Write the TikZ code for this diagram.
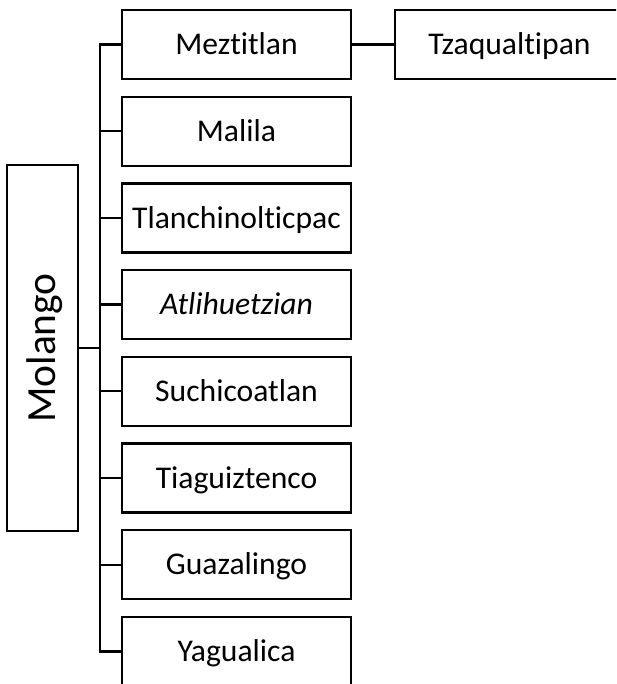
\documentclass[tikz,border=0pt]{standalone}
\usepackage{fontspec}
\setmainfont{Carlito}[Ligatures=NoCommon]
\begin{document}
\begin{tikzpicture}[x=0.2mm,y=-0.2mm,
    town/.style={draw=black,line width=.45mm,minimum width=45.8mm,minimum height=13.8mm,inner sep=0pt,text height=11.6pt,text depth=0pt,font=\fontsize{18}{21}\selectfont},
    branch/.style={draw=black,line width=.45mm}]
    \clip (0,0) rectangle (616,684);
    \node[town,rotate=90,minimum width=73.2mm,minimum height=14.2mm,text height=15.2pt,font=\fontsize{23.6}{28}\selectfont] (molango) at (42.5,348) {Molango};
    \node[town] (meztitlan) at (236.5,44.5) {Meztitlan};
    \node[town] (tzaqualtipan) at (509.5,44.5) {Tzaqualtipan};
    \node[town] (malila) at (236.5,131.2) {Malila};
    \node[town] (tlanchi) at (236.5,217.9) {Tlanchinolticpac};
    \node[town] (atli) at (236.5,304.6) {\itshape Atlihuetzian};
    \node[town] (suchi) at (236.5,391.3) {Suchicoatlan};
    \node[town] (tiagui) at (236.5,478) {Tiaguiztenco};
    \node[town] (guaza) at (236.5,564.7) {Guazalingo};
    \node[town] (yagua) at (236.5,651.4) {Yagualica};
    \coordinate (fork) at (100,348);
    % trunk and branches
    \draw[branch] (molango.south) -- (fork);
    \draw[branch] (meztitlan.west) -- (meztitlan.west -| fork) -- (yagua.west -| fork) -- (yagua.west);
    \foreach \t in {malila,tlanchi,atli,suchi,tiagui,guaza}
        \draw[branch] (\t.west -| fork) -- (\t.west);
    \draw[branch] (meztitlan) -- (tzaqualtipan);
\end{tikzpicture}
\end{document}
